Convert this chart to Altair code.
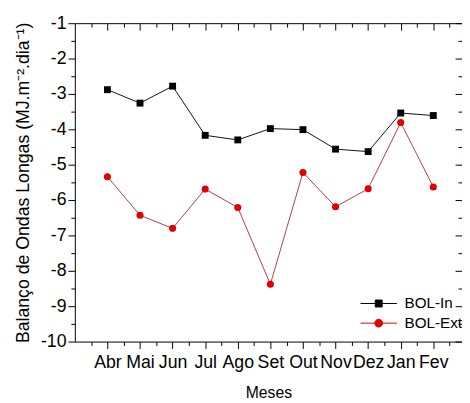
import altair as alt
import pandas as pd

meses = ["Abr", "Mai", "Jun", "Jul", "Ago", "Set", "Out", "Nov", "Dez", "Jan", "Fev"]
bol_in = [-2.88, -3.26, -2.78, -4.17, -4.30, -3.98, -4.01, -4.56, -4.63, -3.54, -3.61]
bol_ext = [-5.34, -6.43, -6.80, -5.69, -6.21, -8.38, -5.22, -6.19, -5.68, -3.81, -5.63]
series = ["BOL-In", "BOL-Ext"]
y_major = list(range(-10, 0))
x_major = list(range(1, 12))

FONT = "Liberation Sans"

rows = []
for i, m in enumerate(meses):
    rows.append({"idx": i + 1, "mes": m, "valor": bol_in[i], "serie": series[0]})
    rows.append({"idx": i + 1, "mes": m, "valor": bol_ext[i], "serie": series[1]})
df = pd.DataFrame(rows)

x_minor = [i + 0.5 for i in range(0, 12)]
y_minor = [v + 0.5 for v in range(-10, -1)]

label_arr = "[" + ",".join(["''"] + ["'%s'" % m for m in meses]) + "]"
x_label_expr = "%s[datum.value]" % label_arr

x_scale = alt.Scale(domain=[0, 11.88], nice=False, zero=False)
y_scale = alt.Scale(domain=[-10, -1], nice=False, zero=False)

common = dict(grid=False, domain=False, tickColor="black", labelColor="black",
              labelFont=FONT, titleFont=FONT, titleColor="black")

ax_bottom = alt.Axis(orient="bottom", values=x_major, labelExpr=x_label_expr,
                     tickSize=7, labelFontSize=18, labelPadding=5,
                     labelOverlap=False, labelFlush=False, title="Meses",
                     titleFontSize=16, titleFontWeight="normal", titlePadding=14, **common)
ax_left = alt.Axis(orient="left", values=y_major, labelExpr="'' + datum.value",
                   tickSize=7, labelFontSize=18, labelPadding=2, labelFlush=False,
                   title="Balanço de Ondas Longas (MJ.m⁻².dia⁻¹)",
                   titleFontSize=18, titleFontWeight="normal", titlePadding=8, **common)
ax_bottom_minor = alt.Axis(orient="bottom", values=x_minor, labels=False, tickSize=4,
                           title=None, **common)
ax_left_minor = alt.Axis(orient="left", values=y_minor, labels=False, tickSize=4,
                         title=None, **common)
ax_top = alt.Axis(orient="top", values=x_major, labels=False, tickSize=7, offset=-7,
                  title=None, **common)
ax_top_minor = alt.Axis(orient="top", values=x_minor, labels=False, tickSize=4, offset=-4,
                        title=None, **common)
ax_right = alt.Axis(orient="right", values=y_major, labels=False, tickSize=7, offset=-7,
                    title=None, **common)
ax_right_minor = alt.Axis(orient="right", values=y_minor, labels=False, tickSize=4, offset=-4,
                          title=None, **common)

base = alt.Chart(df)
is_in = alt.datum.serie == series[0]
is_ext = alt.datum.serie == series[1]

ln_in = base.transform_filter(is_in).mark_line(color="#111111", strokeWidth=1).encode(
    x=alt.X("idx:Q", scale=x_scale, axis=ax_bottom),
    y=alt.Y("valor:Q", scale=y_scale, axis=ax_left),
)
ln_ext = base.transform_filter(is_ext).mark_line(color="#b04040", strokeWidth=1).encode(
    x=alt.X("idx:Q", scale=x_scale, axis=ax_top),
    y=alt.Y("valor:Q", scale=y_scale, axis=ax_right),
)
pt_in = base.transform_filter(is_in).mark_point(
    shape="square", filled=True, color="#000000", size=49, opacity=1).encode(
    x=alt.X("idx:Q", scale=x_scale, axis=ax_bottom_minor),
    y=alt.Y("valor:Q", scale=y_scale, axis=ax_left_minor),
)
pt_ext = base.transform_filter(is_ext).mark_point(
    shape="circle", filled=True, color="#e00000", size=52, opacity=1).encode(
    x=alt.X("idx:Q", scale=x_scale, axis=ax_top_minor),
    y=alt.Y("valor:Q", scale=y_scale, axis=ax_right_minor),
)

path_in = "M-3.27,0H3.27M-0.62,-0.62H0.62V0.62H-0.62Z"
path_ext = "M-3.27,0H3.27M0.7,0A0.7,0.7,0,1,1,-0.7,0A0.7,0.7,0,1,1,0.7,0Z"
leg = alt.Legend(orient="none", legendX=301.5, legendY=277.5, title=None,
                 labelFont=FONT, labelFontSize=15.5, labelColor="black",
                 labelOffset=18.5, symbolSize=128, symbolStrokeWidth=1,
                 rowPadding=3, padding=0)
color_scale = alt.Scale(domain=series, range=["#000000", "#e00000"])
legend_layer = base.mark_point(filled=True, opacity=1, size=128, clip=True).encode(
    x=alt.value(-60), y=alt.value(-60),
    fill=alt.Fill("serie:N", scale=color_scale, legend=leg),
    stroke=alt.Stroke("serie:N", scale=color_scale, legend=leg),
    shape=alt.Shape("serie:N", scale=alt.Scale(domain=series, range=[path_in, path_ext]), legend=leg),
)

chart = alt.layer(ln_in, ln_ext, pt_in, pt_ext, legend_layer).properties(
    width=394, height=324,
    autosize=alt.AutoSizeParams(type="none"),
    padding={"left": 68, "top": 12, "right": 0, "bottom": 56},
    background="white",
).configure_view(stroke="black", strokeWidth=1)

chart.save("out.html", embed_options={"renderer": "svg", "actions": False})
